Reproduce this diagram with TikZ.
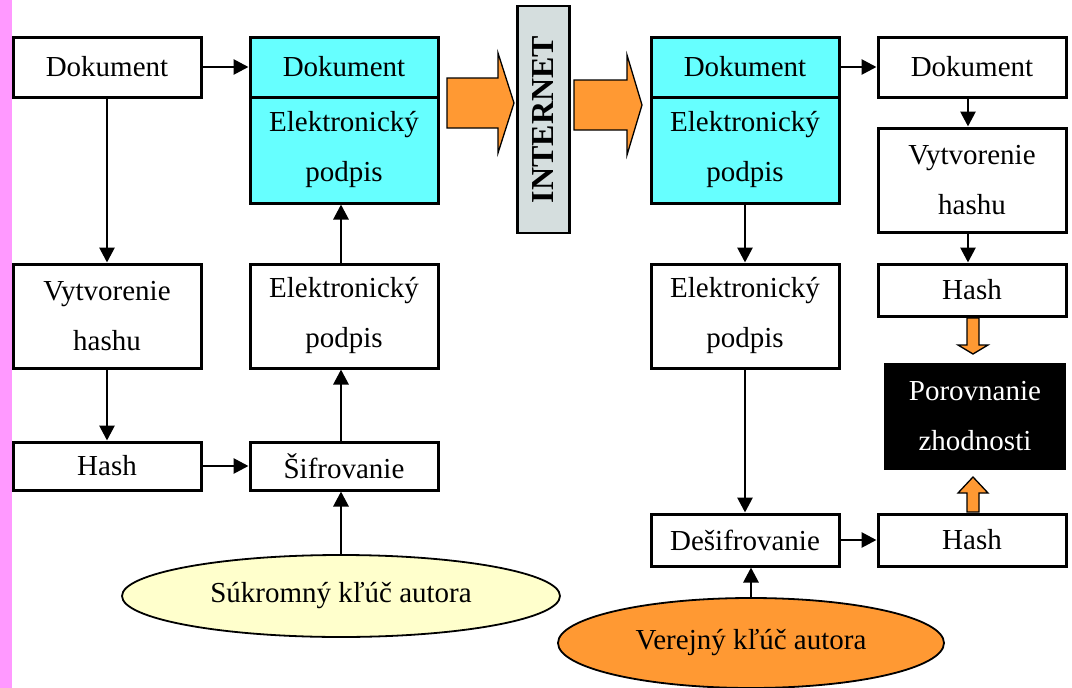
\documentclass[tikz,border=0pt]{standalone}
\usepackage{fontspec}
\setmainfont{Liberation Serif}
\usetikzlibrary{arrows.meta,shapes.geometric}

\definecolor{pinkbar}{HTML}{FF99FF}
\definecolor{cyanbox}{HTML}{66FFFF}
\definecolor{netgray}{HTML}{D5DEDE}
\definecolor{keyyellow}{HTML}{FFFFCC}
\definecolor{keyorange}{HTML}{FF9933}

\tikzset{
  box/.style={draw, line width=3pt, minimum width=188pt, inner sep=0pt,
    align=center, font=\fontsize{29}{50}\selectfont},
  cbox/.style={box, fill=cyanbox},
  key/.style={ellipse, draw, line width=1.8pt, inner sep=0pt,
    font=\fontsize{29}{50}\selectfont},
  link/.style={line width=2.8pt, -{Triangle[length=15pt,width=15pt]}},
  fat/.style={draw, fill=keyorange, line width=1.3pt, line join=miter},
}

\begin{document}
\begin{tikzpicture}[x=1pt, y=-1pt]
    \useasboundingbox (0,0) rectangle (1072,688);
    % Side bar
    \fill[pinkbar] (0,0) rectangle (12,688);

    % Sender
    \node[box, minimum height=60pt] (doc1) at (107,67) {Dokument};
    \node[box, minimum height=104pt] (hashmk1) at (107,316) {Vytvorenie\\hashu};
    \node[box, minimum height=48pt] (hash1) at (107,466) {Hash};
    \node[cbox, minimum height=60pt] (sdoc1) at (344,67) {Dokument};
    \node[cbox, minimum height=106pt] (ssig1) at (344,150) {Elektronický\\podpis};
    \node[box, minimum height=104pt] (sig1) at (344,316) {Elektronický\\podpis};
    \node[box, minimum height=48pt] (enc) at (344,466) {Šifrovanie};
    \node[key, fill=keyyellow, minimum width=438pt, minimum height=82pt]
      (privkey) at (341,596) {Súkromný kľúč autora};

    \draw[link] (doc1) -- (sdoc1);
    \draw[link] (doc1) -- (hashmk1);
    \draw[link] (hashmk1) -- (hash1);
    \draw[link] (hash1) -- (enc);
    \draw[link] (privkey.north) -- (privkey.north |- enc.south);
    \draw[link] ([xshift=-3pt]enc.north) -- ([xshift=-3pt]sig1.south);
    \draw[link] ([xshift=-3pt]sig1.north) -- ([xshift=-3pt]ssig1.south);

    % Internet
    \node[draw, fill=netgray, line width=2.2pt, rotate=90, inner sep=0pt,
      minimum width=227pt, minimum height=52pt,
      font=\bfseries\fontsize{32}{32}\selectfont] (net) at (543.5,119.5) {INTERNET};
    \draw[fat] (447,78) -- (498,78) -- (498,53) -- (514,103) -- (498,153)
      -- (498,128) -- (447,128) -- cycle;
    \draw[fat] (574,80) -- (627,80) -- (627,55) -- (642,105) -- (627,155)
      -- (627,130) -- (574,130) -- cycle;

    % Receiver
    \node[cbox, minimum height=60pt] (rdoc) at (745,67) {Dokument};
    \node[cbox, minimum height=106pt] (rsig) at (745,150) {Elektronický\\podpis};
    \node[box, minimum height=104pt] (sig2) at (745,316) {Elektronický\\podpis};
    \node[box, minimum height=52pt] (dec) at (745,540) {Dešifrovanie};
    \node[key, fill=keyorange, minimum width=386pt, minimum height=90pt]
      (pubkey) at (751,643) {Verejný kľúč autora};
    \node[box, minimum height=60pt] (doc2) at (972,67) {Dokument};
    \node[box, minimum height=104pt] (hashmk2) at (972,180) {Vytvorenie\\hashu};
    \node[box, minimum height=52pt] (hash2) at (972,290) {Hash};
    \node[fill=black, text=white, minimum width=182pt, minimum height=107pt,
      inner sep=0pt, align=center, font=\fontsize{29}{50}\selectfont]
      (cmp) at (975,416.5) {Porovnanie\\zhodnosti};
    \node[box, minimum height=52pt] (hash3) at (972,540) {Hash};

    \draw[link] (rdoc) -- (doc2);
    \draw[link] (rsig) -- (sig2);
    \draw[link] (sig2) -- (dec);
    \draw[link] (pubkey.north) -- (pubkey.north |- dec.south);
    \draw[link] (dec) -- (hash3);
    \draw[link] ([xshift=-4pt]doc2.south) -- ([xshift=-4pt]hashmk2.north);
    \draw[link] ([xshift=-4pt]hashmk2.south) -- ([xshift=-4pt]hash2.north);

    % Comparison
    \draw[fat] (967,318) -- (979,318) -- (979,345) -- (988,345) -- (973,354)
      -- (958,345) -- (967,345) -- cycle;
    \draw[fat] (967,512) -- (979,512) -- (979,493) -- (988,493) -- (973,477)
      -- (958,493) -- (967,493) -- cycle;
\end{tikzpicture}
\end{document}
